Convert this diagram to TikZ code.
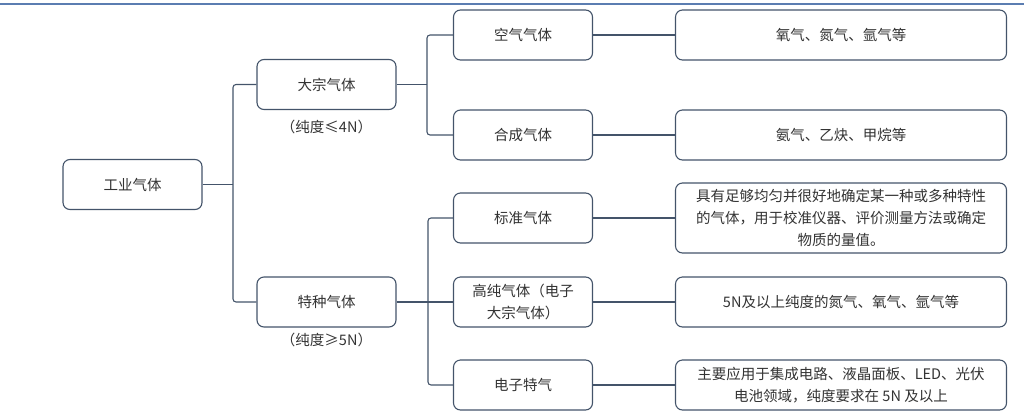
\documentclass[tikz,border=0pt]{standalone}
\usepackage{fontspec}
\newfontfamily\cjk{Noto Sans CJK SC}
\definecolor{edgec}{HTML}{44546A}
\definecolor{txtc}{HTML}{333333}
\definecolor{rulec}{HTML}{5B7DB1}

\begin{document}
\begin{tikzpicture}[x=1pt,y=-1pt,
    box/.style={draw=edgec, line width=1.1pt, rounded corners=7pt, fill=white,
      text=txtc, align=center, inner sep=0pt,
      font=\cjk\fontsize{14.5}{22}\selectfont},
    midbox/.style={box, minimum width=139pt, minimum height=50pt},
    descbox/.style={box, minimum width=331pt, minimum height=50pt},
    note/.style={text=txtc, font=\cjk\fontsize{14.5}{22}\selectfont},
    link/.style={draw=edgec, line width=1.1pt, rounded corners=3pt}]
  \useasboundingbox (0,0) rectangle (1024,418);
  \draw[rulec, line width=2pt] (0,4) -- (1024,4);

  % first and second level
  \node[midbox] (root) at (132.5,184.5) {工业气体};
  \node[midbox] (bulk) at (326.5,84.5) {大宗气体};
  \node[note] (bulkp) at (326.5,127) {（纯度≤4N）};
  \node[midbox] (spec) at (326.5,302) {特种气体};
  \node[note] (specp) at (326.5,340) {（纯度≥5N）};

  % third level
  \node[midbox] (air) at (523,35) {空气气体};
  \node[midbox] (syn) at (523,135) {合成气体};
  \node[midbox] (std) at (523,218) {标准气体};
  \node[midbox] (pure) at (523,302) {高纯气体（电子\\大宗气体）};
  \node[midbox] (elec) at (523,385) {电子特气};

  % descriptions
  \node[descbox] (airD) at (841,35) {氧气、氮气、氩气等};
  \node[descbox] (synD) at (841,135) {氨气、乙炔、甲烷等};
  \node[descbox, minimum height=70pt] (stdD) at (841,218)
    {具有足够均匀并很好地确定某一种或多种特性\\的气体，用于校准仪器、评价测量方法或确定\\物质的量值。};
  \node[descbox] (pureD) at (841,302) {5N及以上纯度的氮气、氧气、氩气等};
  \node[descbox] (elecD) at (841,385) {主要应用于集成电路、液晶面板、LED、光伏\\电池领域，纯度要求在 5N 及以上};

  % junctions
  \coordinate (j1) at (233,184.5);
  \coordinate (j2) at (427,84.5);
  \coordinate (j3) at (428,302);

  \draw[link] (root.east) -- (j1);
  \draw[link] (bulk.west) -| (j1) |- (spec.west);
  \draw[link] (bulk.east) -- (j2);
  \draw[link] (air.west) -| (j2) |- (syn.west);
  \draw[link] (spec.east) -- (pure.west);
  \draw[link] (std.west) -| (j3) |- (elec.west);

  \draw[link] (air) -- (airD);
  \draw[link] (syn) -- (synD);
  \draw[link] (std) -- (stdD);
  \draw[link] (pure) -- (pureD);
  \draw[link] (elec) -- (elecD);
\end{tikzpicture}
\end{document}
